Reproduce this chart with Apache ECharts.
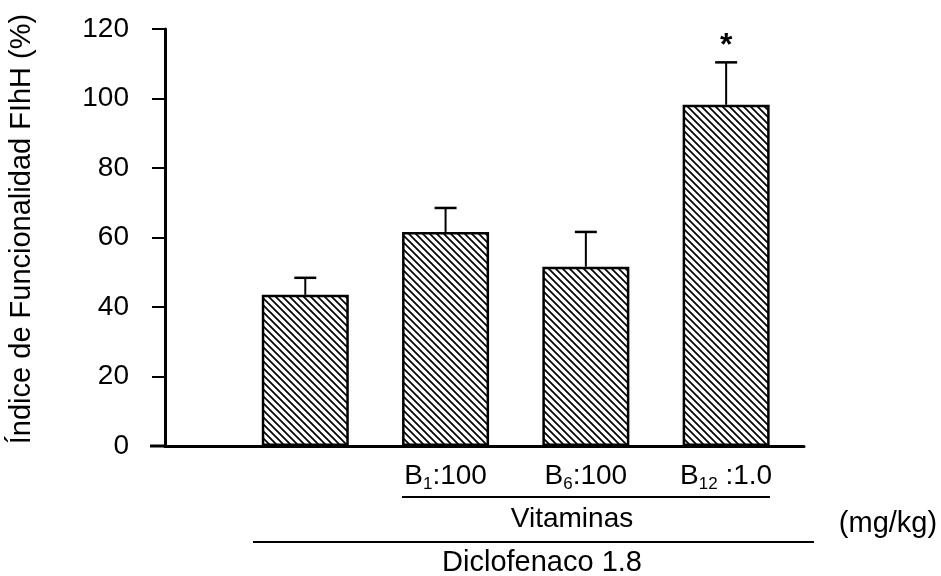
<!DOCTYPE html>
<html>
<head>
<meta charset="utf-8">
<script src="https://cdn.jsdelivr.net/npm/echarts@6/dist/echarts.min.js"></script>
<style>
html,body{margin:0;padding:0;background:#fff;}
#chart{width:941px;height:576px;}
</style>
</head>
<body>
<div id="chart"></div>
<script>
// ---- data ----
var positions = [1, 2, 3, 4];
var xLabels = ['', 'B{s|1}:100', 'B{s|6}:100', 'B{s|12} :1.0'];
var means = [43.5, 61.6, 51.6, 98.2];
var errors = [4.9, 6.9, 10.0, 12.2];
var significance = ['', '', '', '*'];
var yTicks = [0, 20, 40, 60, 80, 100, 120];
var yTitle = 'Índice de Funcionalidad FIhH (%)';
var groupInner = 'Vitaminas';
var groupOuter = 'Diclofenaco 1.8';
var unitLabel = '(mg/kg)';

var FONT = '"Liberation Sans", Arial, sans-serif';

// hatch pattern (\\\)
function makeHatch() {
  var s = 7;
  var c = document.createElement('canvas');
  c.width = s; c.height = s;
  var g = c.getContext('2d');
  g.fillStyle = '#fff';
  g.fillRect(0, 0, s, s);
  g.strokeStyle = '#000';
  g.lineWidth = 1.7;
  g.beginPath();
  g.moveTo(-1, -1); g.lineTo(s + 1, s + 1);
  g.moveTo(-1, s - 1); g.lineTo(1, s + 1);
  g.moveTo(s - 1, -1); g.lineTo(s + 1, 1);
  g.stroke();
  return c;
}

var barData = positions.map(function (p, i) { return [p, means[i]]; });
var errData = positions.map(function (p, i) { return [p, means[i], means[i] + errors[i], i]; });

var chart = echarts.init(document.getElementById('chart'), null, {renderer: 'canvas'});
chart.setOption({
  backgroundColor: '#fff',
  animation: false,
  grid: {left: 165, right: 137, top: 29, bottom: 130, containLabel: false},
  xAxis: {
    type: 'value', min: 0, max: 4.555, interval: 1,
    splitLine: {show: false},
    axisTick: {show: false},
    axisLine: {show: true, onZero: false, lineStyle: {color: '#000', width: 3}},
    axisLabel: {
      showMaxLabel: false,
      margin: 14,
      fontFamily: FONT, fontSize: 28, color: '#000',
      formatter: function (v) {
        var i = Math.round(v) - 1;
        return (i >= 0 && i < xLabels.length) ? xLabels[i] : '';
      },
      rich: {
        s: {fontSize: 17, fontFamily: FONT, color: '#000', padding: [16, 0, 0, 0]}
      }
    }
  },
  yAxis: {
    type: 'value', min: yTicks[0], max: yTicks[yTicks.length - 1], interval: 20,
    splitLine: {show: false},
    axisLine: {show: true, lineStyle: {color: '#000', width: 3}},
    axisTick: {show: true, length: 13, lineStyle: {color: '#000', width: 2}},
    axisLabel: {margin: 36, fontFamily: FONT, fontSize: 28, color: '#000'}
  },
  series: [
    {
      type: 'bar',
      data: barData,
      barWidth: 87,
      itemStyle: {
        color: {image: makeHatch(), repeat: 'repeat'},
        borderColor: '#000', borderWidth: 2.5
      },
      z: 2
    },
    {
      type: 'custom',
      data: errData,
      z: 3,
      renderItem: function (params, api) {
        var x = api.value(0);
        var lo = api.coord([x, api.value(1)]);
        var hi = api.coord([x, api.value(2)]);
        var idx = api.value(3);
        var half = 11;
        var children = [
          {type: 'line', shape: {x1: lo[0], y1: lo[1], x2: hi[0], y2: hi[1]}, style: {stroke: '#000', lineWidth: 2}},
          {type: 'line', shape: {x1: hi[0] - half, y1: hi[1], x2: hi[0] + half, y2: hi[1]}, style: {stroke: '#000', lineWidth: 2.5}}
        ];
        if (significance[idx]) {
          children.push({type: 'text', style: {text: significance[idx], x: hi[0], y: hi[1] - 16, align: 'center', verticalAlign: 'middle', font: 'bold 32px ' + FONT, fill: '#000'}});
        }
        return {type: 'group', children: children};
      }
    }
  ],
  graphic: [
    {type: 'line', shape: {x1: 150, y1: 446, x2: 165, y2: 446}, style: {stroke: '#000', lineWidth: 3}},
    {type: 'line', shape: {x1: 402, y1: 497, x2: 770, y2: 497}, style: {stroke: '#000', lineWidth: 2}},
    {type: 'line', shape: {x1: 253, y1: 542, x2: 814, y2: 542}, style: {stroke: '#000', lineWidth: 2}},
    {type: 'text', x: 572, y: 519, style: {text: groupInner, align: 'center', verticalAlign: 'middle', font: '28px ' + FONT, fill: '#000'}},
    {type: 'text', x: 542, y: 563, style: {text: groupOuter, align: 'center', verticalAlign: 'middle', font: '29px ' + FONT, fill: '#000'}},
    {type: 'text', x: 888, y: 524, style: {text: unitLabel, align: 'center', verticalAlign: 'middle', font: '29px ' + FONT, fill: '#000'}},
    {type: 'text', x: 22, y: 229, rotation: Math.PI / 2, style: {text: yTitle, align: 'center', verticalAlign: 'middle', font: '29px ' + FONT, fill: '#000'}}
  ]
});
</script>
</body>
</html>
